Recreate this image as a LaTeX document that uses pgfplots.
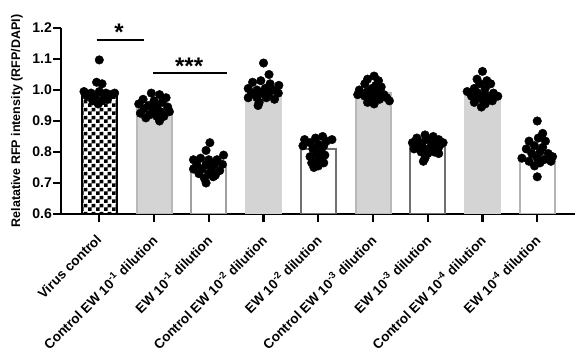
\documentclass[border=0pt]{standalone}
\usepackage{fontspec}
\setmainfont{Liberation Sans}
\usepackage{pgfplots}
\pgfplotsset{compat=1.18}
\usetikzlibrary{patterns}
\pgfdeclarepatternformonly{bigcheck}{\pgfpointorigin}{\pgfqpoint{8pt}{8pt}}{\pgfqpoint{8pt}{8pt}}{%
 \pgfpathrectangle{\pgfpointorigin}{\pgfqpoint{4pt}{4pt}}%
 \pgfpathrectangle{\pgfqpoint{4pt}{4pt}}{\pgfqpoint{4pt}{4pt}}%
 \pgfusepath{fill}}
\definecolor{ctrlfill}{HTML}{D4D4D4}
\definecolor{ctrledge}{HTML}{B8B8B8}
\definecolor{ewdark}{HTML}{707070}
\definecolor{ewmid}{HTML}{A0A0A0}
\definecolor{ewlight}{HTML}{B4B4B4}
\begin{document}
\begin{tikzpicture}
\useasboundingbox (-61pt,-141pt) rectangle (522pt,214pt);
\begin{axis}[
 at={(0,0)}, anchor=south west,
 scale only axis, width=514pt, height=186pt,
 xmin=-0.70, xmax=8.69, ymin=0.6, ymax=1.2,
 axis lines=left, axis line style={line width=2.5pt, -},
 ytick={0.6,0.7,0.8,0.9,1.0,1.1,1.2},
 yticklabel style={/pgf/number format/fixed, /pgf/number format/fixed zerofill, /pgf/number format/precision=1, /pgf/number format/assume math mode=true, font=\bfseries\fontsize{14}{14}\selectfont, inner sep=1pt},
 xtick={0,1,2,3,4,5,6,7,8},
 xticklabels={Virus control, Control EW 10\textsuperscript{-1} dilution, EW 10\textsuperscript{-1} dilution, Control EW 10\textsuperscript{-2} dilution, EW 10\textsuperscript{-2} dilution, Control EW 10\textsuperscript{-3} dilution, EW 10\textsuperscript{-3} dilution, Control EW 10\textsuperscript{-4} dilution, EW 10\textsuperscript{-4} dilution},
 x tick label style={xshift=-4pt, yshift=-10pt, rotate=45, anchor=north east, font=\bfseries\fontsize{13.5}{13.5}\selectfont, inner sep=1pt},
 tick style={line width=2.2pt, black}, major tick length=8pt, tick align=outside,
 ylabel={Relatative RFP intensity (RFP/DAPI)},
 y label style={at={(axis description cs:-0.0856,0.5)}, anchor=center, font=\bfseries\fontsize{12.5}{12.5}\selectfont},
 clip mode=individual,
]
% bars
\addplot[ybar, bar shift=0pt, bar width=0.64, draw=black, line width=2pt, pattern=bigcheck, pattern color=black,
 error bars/.cd, y dir=plus, y explicit, error bar style={black, line width=1.2pt}, error mark options={black, rotate=90, mark size=4.5pt, line width=1.2pt}] coordinates {(0,0.99) +- (0,0.04)};
\addplot[ybar, bar shift=0pt, bar width=0.64, draw=ctrledge, fill=ctrlfill, line width=2pt,
 error bars/.cd, y dir=plus, y explicit, error bar style={ewmid, line width=1.2pt}, error mark options={ewmid, rotate=90, mark size=4.5pt, line width=1.2pt}] coordinates {(1,0.94) +- (0,0.03)};
\addplot[ybar, bar shift=0pt, bar width=0.64, draw=ewmid, fill=white, line width=2pt] coordinates {(2,0.755)};
\addplot[ybar, bar shift=0pt, bar width=0.64, draw=ctrlfill, fill=ctrlfill, line width=2pt] coordinates {(3,0.995)};
\addplot[ybar, bar shift=0pt, bar width=0.64, draw=ewdark, fill=white, line width=2pt] coordinates {(4,0.81)};
\addplot[ybar, bar shift=0pt, bar width=0.64, draw=ctrledge, fill=ctrlfill, line width=2pt] coordinates {(5,0.99)};
\addplot[ybar, bar shift=0pt, bar width=0.64, draw=ewdark, fill=white, line width=2pt] coordinates {(6,0.815)};
\addplot[ybar, bar shift=0pt, bar width=0.64, draw=ctrlfill, fill=ctrlfill, line width=2pt] coordinates {(7,0.98)};
\addplot[ybar, bar shift=0pt, bar width=0.64, draw=ewlight, fill=white, line width=2pt] coordinates {(8,0.78)};
% points
\addplot[only marks, mark=*, mark size=4.3pt, black] coordinates {
(0,1.097) (-0.05,1.025) (0.05,1.02) (-0.28,0.995) (-0.15,0.99) (0,0.995) (0.12,0.99) (0.28,0.99) (-0.22,0.98) (-0.08,0.98) (0.08,0.985) (0.2,0.985) (-0.12,0.965) (0.05,0.965) (0.15,0.97) (-0.02,0.955)
(0.95,0.99) (1.1,0.985) (1.22,0.975) (0.8,0.97) (1.0,0.965) (1.15,0.96) (0.72,0.955) (0.9,0.95) (1.05,0.945) (1.25,0.945) (0.82,0.94) (0.98,0.935) (1.12,0.93) (1.28,0.93) (0.75,0.925) (0.92,0.92) (1.05,0.915) (1.18,0.915) (0.85,0.91) (1.1,0.90) (1.0,0.925)
(2.02,0.83) (1.95,0.805) (2.27,0.79) (1.72,0.775) (1.85,0.78) (2.0,0.775) (2.15,0.775) (1.78,0.76) (1.95,0.76) (2.1,0.76) (2.25,0.76) (1.72,0.745) (1.88,0.745) (2.05,0.745) (2.2,0.74) (1.82,0.73) (2.0,0.73) (2.12,0.725) (1.92,0.715) (2.08,0.72) (1.95,0.70)
(3,1.087) (3.1,1.05) (2.8,1.025) (2.95,1.03) (3.12,1.02) (3.28,1.015) (2.72,1.005) (2.88,1.0) (3.03,1.005) (3.18,1.0) (2.78,0.99) (2.95,0.99) (3.1,0.99) (3.27,0.99) (2.72,0.975) (2.88,0.975) (3.05,0.975) (3.2,0.97) (2.92,0.96) (2.9,0.95)
(3.95,0.845) (4.08,0.85) (3.75,0.84) (4.25,0.84) (3.85,0.83) (4.15,0.835) (4.0,0.825) (3.72,0.82) (4.1,0.82) (3.9,0.81) (4.05,0.805) (3.98,0.795) (4.12,0.79) (3.85,0.785) (4.05,0.78) (3.95,0.77) (4.1,0.765) (3.88,0.765) (4.0,0.755) (3.92,0.75)
(5.02,1.045) (4.9,1.035) (5.1,1.03) (4.85,1.02) (5.05,1.015) (4.98,1.005) (5.15,1.01) (4.75,1.0) (4.9,0.995) (5.08,0.99) (4.72,0.985) (5.2,0.985) (4.85,0.98) (5.0,0.98) (5.25,0.975) (4.95,0.97) (5.12,0.97) (4.9,0.96) (5.02,0.955) (5.3,0.965)
(5.95,0.855) (6.1,0.85) (5.8,0.845) (6.2,0.84) (6.0,0.84) (5.72,0.83) (6.28,0.83) (5.9,0.83) (6.1,0.825) (5.82,0.82) (6.05,0.815) (6.2,0.815) (5.95,0.81) (5.75,0.81) (6.12,0.80) (5.88,0.80) (6.0,0.795) (6.2,0.795) (5.95,0.78) (5.92,0.77)
(7,1.06) (6.9,1.035) (7.08,1.03) (7.15,1.02) (6.95,1.02) (7.05,1.005) (6.85,1.005) (6.72,0.995) (7.2,0.99) (6.92,0.99) (7.05,0.985) (6.8,0.98) (7.28,0.98) (7.1,0.975) (6.9,0.975) (7.0,0.97) (7.18,0.965) (6.85,0.96) (7.05,0.955) (6.98,0.945)
(8,0.90) (8.1,0.86) (8.02,0.845) (7.85,0.835) (8.15,0.835) (7.95,0.82) (8.1,0.815) (7.8,0.81) (8.05,0.80) (7.9,0.795) (8.2,0.795) (8.28,0.785) (7.72,0.78) (8.0,0.78) (8.12,0.775) (7.85,0.77) (8.25,0.77) (8.05,0.765) (7.95,0.755) (8.0,0.72)
};
% significance
\addplot[black, line width=1.8pt] coordinates {(-0.05,1.161) (0.81,1.161)};
\addplot[black, line width=1.8pt] coordinates {(0.98,1.055) (2.33,1.055)};
\node[font=\bfseries\fontsize{24}{24}\selectfont] at (axis cs:0.36,1.185) {*};
\node[font=\bfseries\fontsize{24}{24}\selectfont] at (axis cs:1.64,1.077) {***};
\end{axis}
\end{tikzpicture}
\end{document}
